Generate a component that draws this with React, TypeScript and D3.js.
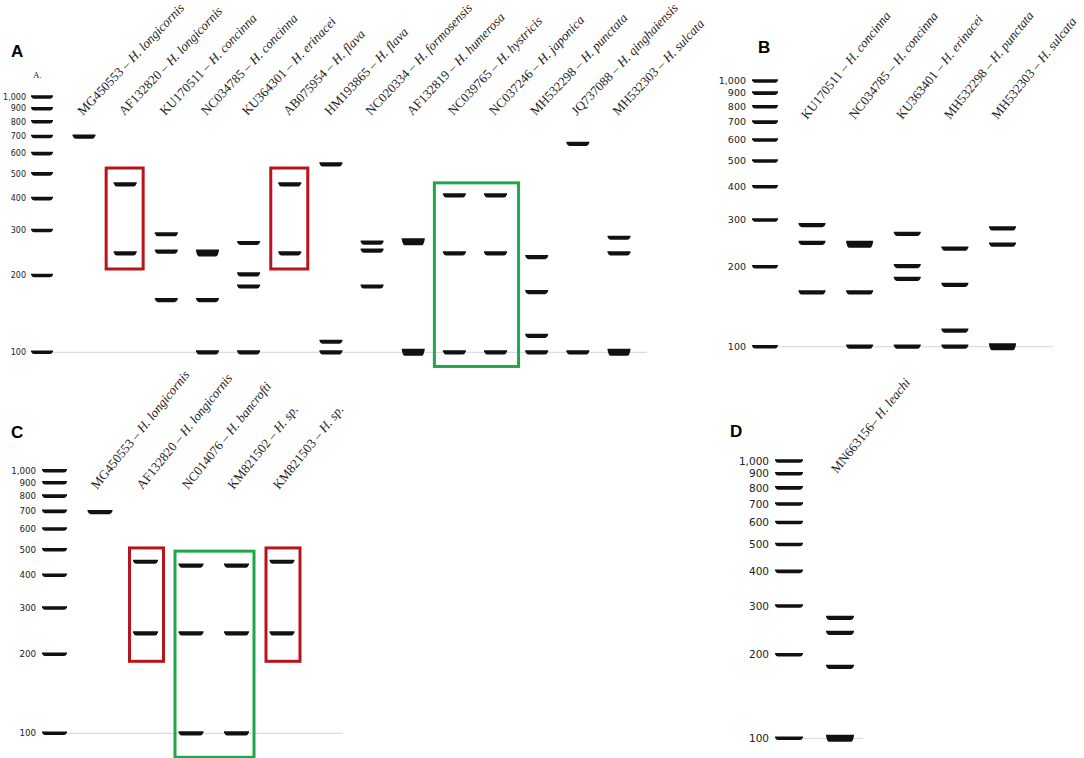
import React from 'react';
import * as d3 from 'd3';

// ---------- DATA ----------
const ladderSizes = [100, 200, 300, 400, 500, 600, 700, 800, 900, 1000];
const ladderLabels = ['100', '200', '300', '400', '500', '600', '700', '800', '900', '1,000'];

const accessionsA = ['MG450553', 'AF132820', 'KU170511', 'NC034785', 'KU364301', 'AB075954', 'HM193865', 'NC020334', 'AF132819', 'NC039765', 'NC037246', 'MH532298', 'JQ737088', 'MH532303'];
const speciesA = ['H. longicornis', 'H. longicornis', 'H. concinna', 'H. concinna', 'H. erinacei', 'H. flava', 'H. flava', 'H. formosensis', 'H. humerosa', 'H. hystricis', 'H. japonica', 'H. punctata', 'H. qinghaiensis', 'H. sulcata'];
// fragment sizes (bp); a repeated size = co-migrating fragments (heavier band)
const bandsA = [
  [700],
  [455, 244],
  [290, 248, 160],
  [245, 245, 160, 100],
  [268, 202, 181, 100],
  [455, 244],
  [545, 110, 100],
  [269, 250, 181],
  [271, 271, 100, 100],
  [412, 244, 100],
  [412, 244, 100],
  [236, 172, 116, 100],
  [655, 100],
  [281, 244, 100, 100],
];
const redLanesA = [1, 5];
const greenLanesA = [9, 10];

const accessionsB = ['KU170511', 'NC034785', 'KU363401', 'MH532298', 'MH532303'];
const speciesB = ['H. concinna', 'H. concinna', 'H. erinacei', 'H. punctata', 'H. sulcata'];
const bandsB = [
  [287, 246, 160],
  [243, 243, 160, 100],
  [266, 201, 180, 100],
  [234, 171, 115, 100],
  [279, 242, 100, 100],
];

const accessionsC = ['MG450553', 'AF132820', 'NC014076', 'KM821502', 'KM821503'];
const speciesC = ['H. longicornis', 'H. longicornis', 'H. bancrofti', 'H. sp.', 'H. sp.'];
const bandsC = [
  [695],
  [450, 240],
  [435, 240, 100],
  [435, 240, 100],
  [450, 240],
];
const redLanesC = [1, 4];
const greenLanesC = [2, 3];

const accessionsD = ['MN663156'];
const speciesD = ['H. leachi'];
const bandsD = [[272, 240, 181, 100, 100]];

// ---------- LAYOUT ----------
type Box = { lanes: number[]; color: string; top: number; bottom: number; padL: number; padR: number };
type Panel = {
  letter: string; letterX: number; letterY: number;
  y100: number; y1000: number;
  laneFirst: number; laneLast: number;
  ladderX0: number; ladderX1: number; tickRight: number; tickFont: number;
  lineEnd: number; bandW: number;
  labelDx: number; labelY: number; angle: number; sep: string;
  accessions: string[]; species: string[]; bands: number[][];
  boxes: Box[];
};

const RED = '#b8141c';
const GREEN = '#1fa84b';

const panels: Panel[] = [
  {
    letter: 'A', letterX: 11, letterY: 57, y100: 352.3, y1000: 97,
    laneFirst: 84, laneLast: 619, ladderX0: 31, ladderX1: 53, tickRight: 26, tickFont: 8,
    lineEnd: 647, bandW: 23, labelDx: -1, labelY: 116, angle: -46.5, sep: ' – ',
    accessions: accessionsA, species: speciesA, bands: bandsA,
    boxes: [
      ...redLanesA.map(l => ({ lanes: [l], color: RED, top: 527, bottom: 212, padL: 19, padR: 18 })),
      { lanes: greenLanesA, color: GREEN, top: 461, bottom: 88, padL: 20, padR: 23 },
    ],
  },
  {
    letter: 'B', letterX: 758, letterY: 53, y100: 346.7, y1000: 81,
    laneFirst: 812, laneLast: 1002.5, ladderX0: 752, ladderX1: 778, tickRight: 746, tickFont: 9.5,
    lineEnd: 1053, bandW: 27, labelDx: -5, labelY: 120, angle: -51, sep: ' – ',
    accessions: accessionsB, species: speciesB, bands: bandsB, boxes: [],
  },
  {
    letter: 'C', letterX: 11, letterY: 438, y100: 733.3, y1000: 470.7,
    laneFirst: 100, laneLast: 282, ladderX0: 42, ladderX1: 67, tickRight: 36, tickFont: 8.7,
    lineEnd: 343, bandW: 25, labelDx: -3, labelY: 490, angle: -51, sep: ' – ',
    accessions: accessionsC, species: speciesC, bands: bandsC,
    boxes: [
      ...redLanesC.map(l => ({ lanes: [l], color: RED, top: 508, bottom: 188, padL: 16, padR: 18 })),
      { lanes: greenLanesC, color: GREEN, top: 494, bottom: 81, padL: 16, padR: 17.5 },
    ],
  },
  {
    letter: 'D', letterX: 730, letterY: 437, y100: 738.3, y1000: 461,
    laneFirst: 840, laneLast: 840, ladderX0: 775, ladderX1: 803, tickRight: 769, tickFont: 10.5,
    lineEnd: 863, bandW: 28, labelDx: -3, labelY: 474, angle: -51, sep: '– ',
    accessions: accessionsD, species: speciesD, bands: bandsD, boxes: [],
  },
];

function bandPath(x0: number, x1: number, y: number, h: number) {
  const t = y - h / 2;
  const b = y + h / 2;
  return `M${x0},${t} L${x1},${t} L${x1},${t + 1} Q${x1 - 1},${b} ${x1 - 3},${b} L${x0 + 3},${b} Q${x0 + 1},${b} ${x0},${t + 1} Z`;
}

function GelPanel({ p }: { p: Panel }) {
  const y = d3.scaleLog().domain([100, 1000]).range([p.y100, p.y1000]);
  const x = d3.scalePoint<string>()
    .domain(p.accessions.map((a, i) => `${i}`))
    .range([p.laneFirst, p.laneLast]);
  const lx = (i: number) => (p.accessions.length === 1 ? p.laneFirst : (x(`${i}`) as number));

  return (
    <g>
      <text x={p.letterX} y={p.letterY} fontFamily="Liberation Sans, Arial, sans-serif" fontWeight="bold" fontSize={17} fill="#000">
        {p.letter}
      </text>
      {p.letter === 'A' && (
        <text x={33} y={78} fontFamily="Liberation Serif, serif" fontSize={9} fill="#222">A.</text>
      )}
      {/* 100 bp reference line */}
      <line x1={p.ladderX1} x2={p.lineEnd} y1={y(100)} y2={y(100)} stroke="#d4d4d4" strokeWidth={1} />
      {/* ladder */}
      {ladderSizes.map((s, i) => (
        <g key={`l${s}`}>
          <path d={bandPath(p.ladderX0, p.ladderX1, y(s), 3.6)} fill="#111" />
          <text x={p.tickRight} y={y(s)} dy="0.35em" textAnchor="end" fontFamily="DejaVu Sans, Verdana, sans-serif" fontSize={p.tickFont} fill="#222">
            {ladderLabels[i]}
          </text>
        </g>
      ))}
      {/* lanes */}
      {p.bands.map((lane, i) => {
        const cx = lx(i);
        const counts = d3.rollup(lane, v => v.length, d => d);
        return (
          <g key={`lane${i}`}>
            {Array.from(counts.entries()).map(([s, n]) => (
              <path key={s} d={bandPath(cx - p.bandW / 2, cx + p.bandW / 2, y(s), n > 1 ? 7 : 4.2)} fill="#111" />
            ))}
            <text
              transform={`translate(${cx + p.labelDx},${p.labelY}) rotate(${p.angle})`}
              fontFamily="Liberation Serif, Times New Roman, serif" fontSize={13} fill="#222"
            >
              <tspan>{p.accessions[i]}{p.sep}</tspan>
              <tspan fontStyle="italic">{p.species[i]}</tspan>
            </text>
          </g>
        );
      })}
      {/* highlight boxes */}
      {p.boxes.map((b, k) => {
        const xa = lx(b.lanes[0]) - b.padL;
        const xb = lx(b.lanes[b.lanes.length - 1]) + b.padR;
        const ya = y(b.top);
        const yb = y(b.bottom);
        return (
          <rect key={`box${k}`} x={xa} y={ya} width={xb - xa} height={yb - ya} fill="none" stroke={b.color} strokeWidth={3} />
        );
      })}
    </g>
  );
}

export default function App() {
  return (
    <svg width={1084} height={758} style={{ position: 'absolute', left: 0, top: 0, background: '#fff' }}>
      <rect width={1084} height={758} fill="#fff" />
      {panels.map(p => (
        <GelPanel key={p.letter} p={p} />
      ))}
    </svg>
  );
}
